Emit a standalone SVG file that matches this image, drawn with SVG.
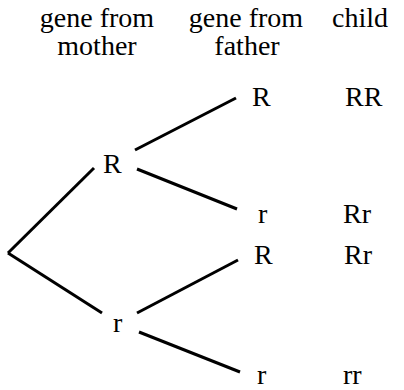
<svg xmlns="http://www.w3.org/2000/svg" width="404" height="390" viewBox="0 0 404 390">
<rect width="404" height="390" fill="#fff"/>
<g id="headers">
<text x="97" y="27" text-anchor="middle" font-family="Times New Roman" font-size="28">gene from</text>
<text x="97" y="55" text-anchor="middle" font-family="Times New Roman" font-size="28">mother</text>
<text x="246" y="27" text-anchor="middle" font-family="Times New Roman" font-size="28">gene from</text>
<text x="247" y="55" text-anchor="middle" font-family="Times New Roman" font-size="28">father</text>
<text x="360" y="27" text-anchor="middle" font-family="Times New Roman" font-size="28">child</text>
</g>
<g id="connectors" stroke="#000" stroke-width="3" fill="none">
<line x1="8" y1="253" x2="94" y2="168"/>
<line x1="8" y1="253" x2="102" y2="313"/>
<line x1="135" y1="150" x2="236" y2="98"/>
<line x1="137" y1="169" x2="237" y2="209"/>
<line x1="137" y1="313" x2="238" y2="260"/>
<line x1="139" y1="332" x2="240" y2="372"/>
</g>
<g id="m_R"><text x="103" y="173" font-family="Times New Roman" font-size="28">R</text></g>
<g id="m_r"><text x="113" y="332" font-family="Times New Roman" font-size="28">r</text></g>
<g id="f_R1"><text x="252" y="106" font-family="Times New Roman" font-size="28">R</text><text x="345" y="106" font-family="Times New Roman" font-size="28">RR</text></g>
<g id="f_r1"><text x="258" y="223" font-family="Times New Roman" font-size="28">r</text><text x="343" y="223" font-family="Times New Roman" font-size="28">Rr</text></g>
<g id="f_R2"><text x="254" y="264" font-family="Times New Roman" font-size="28">R</text><text x="344" y="264" font-family="Times New Roman" font-size="28">Rr</text></g>
<g id="f_r2"><text x="257" y="384" font-family="Times New Roman" font-size="28">r</text><text x="343" y="384" font-family="Times New Roman" font-size="28">rr</text></g>
</svg>
